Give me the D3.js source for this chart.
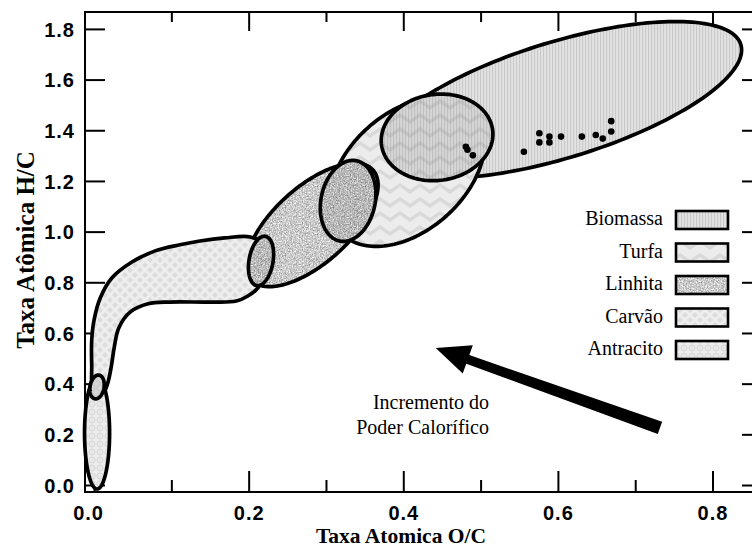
<!DOCTYPE html>
<html>
<head>
<meta charset="utf-8">
<script src="https://cdn.jsdelivr.net/npm/d3@7"></script>
<style>
  html, body { margin: 0; padding: 0; background: #fff; }
  svg { display: block; }
  .tick text { font-family: "Liberation Sans", Arial, Helvetica, sans-serif; font-weight: bold; font-size: 20px; letter-spacing: 1px; fill: #000; }
  .tick line { stroke: #000; stroke-width: 2; }
  .serif { font-family: "Liberation Serif", "Times New Roman", Times, serif; fill: #000; }
</style>
</head>
<body>
<svg id="chart" width="752" height="548"></svg>
<script>
// Van Krevelen diagram: atomic H/C versus atomic O/C for solid fuels

// ---- data -------------------------------------------------------------
const legendLabels = ["Biomassa", "Turfa", "Linhita", "Carvão", "Antracito"];

// Elliptical fuel regions: centre [O/C, H/C] plus two conjugate half-axis vectors (ratio units)
const regionNames   = ["Biomassa", "Turfa", "Linhita", "Antracito"];
const regionCenter  = [[0.6028, 1.5199], [0.4049, 1.2357], [0.2820, 1.0265], [0.0039, 0.2053]];
const regionAxisU   = [[0.2338, 0.2182], [0.0865, 0.2377], [0.0788, 0.2166], [0.0000, 0.2211]];
const regionAxisV   = [[0.0219, -0.2190], [0.0511, -0.1731], [0.0329, -0.1115], [0.0162, 0.0000]];

// Overlap zones between neighbouring fuels
const overlapNames  = ["Biomassa/Turfa", "Turfa/Linhita", "Linhita/Carvão", "Carvão/Antracito"];
const overlapCenter = [[0.4437, 1.3719], [0.3286, 1.1212], [0.2160, 0.8843], [0.0039, 0.3869]];
const overlapAxisU  = [[0.0718, 0.0308], [0.0110, 0.1583], [0.0056, 0.0972], [0.0027, 0.0467]];
const overlapAxisV  = [[0.0078, -0.1681], [0.0342, -0.0222], [0.0153, -0.0082], [0.0089, -0.0048]];

// Carvão band outline [O/C, H/C]
const carvaoOutline = [
  [-0.001, 0.367], [-0.003, 0.474], [-0.003, 0.572], [0.000, 0.651], [0.008, 0.738],
  [0.023, 0.817], [0.049, 0.880], [0.079, 0.924], [0.111, 0.948], [0.137, 0.963],
  [0.169, 0.975], [0.202, 0.979], [0.221, 0.948], [0.225, 0.869], [0.212, 0.778],
  [0.199, 0.746], [0.184, 0.726], [0.150, 0.722], [0.098, 0.722], [0.070, 0.715],
  [0.047, 0.683], [0.032, 0.620], [0.026, 0.541], [0.022, 0.462], [0.017, 0.395],
  [0.009, 0.347]
];

// Measured biomass samples
const sampleOC = [0.481, 0.483, 0.490, 0.556, 0.576, 0.576, 0.589, 0.589, 0.604, 0.631, 0.649, 0.658, 0.669, 0.669];
const sampleHC = [1.335, 1.323, 1.301, 1.315, 1.388, 1.352, 1.375, 1.352, 1.375, 1.375, 1.381, 1.367, 1.436, 1.395];

// Arrow: heating value increases towards the upper-left
const arrowFrom = [0.732, 0.225];
const arrowTo   = [0.442, 0.541];
const arrowText = ["Incremento do", "Poder Calorífico"];

// Axis ticks
const xMajorTicks = [0.0, 0.2, 0.4, 0.6, 0.8];
const xMinorTicks = [0.1, 0.3, 0.5, 0.7];
const yTicks      = [0.0, 0.2, 0.4, 0.6, 0.8, 1.0, 1.2, 1.4, 1.6, 1.8];
const xTitle = "Taxa Atomica O/C";
const yTitle = "Taxa Atômica H/C";

// ---- layout -----------------------------------------------------------
const svg = d3.select("#chart");
const L = 85, R = 762, T = 12, B = 492;
const x = d3.scaleLinear().domain([-0.0117, 0.864]).range([L, R]);
const y = d3.scaleLinear().domain([-0.0276, 1.8667]).range([B, T]);

// ---- fill patterns -------------------------------------------------------
const defs = svg.append("defs");

// grainy grey texture used for lignite and its overlaps
function speckPattern(id, gray) {
  const S = 48;
  const f = defs.append("filter").attr("id", id + "-f")
    .attr("filterUnits", "userSpaceOnUse").attr("x", 0).attr("y", 0).attr("width", S).attr("height", S)
    .attr("color-interpolation-filters", "sRGB");
  f.append("feTurbulence").attr("type", "fractalNoise").attr("baseFrequency", 0.7)
    .attr("numOctaves", 2).attr("seed", 4).attr("stitchTiles", "stitch");
  const off = (gray - 0.35).toFixed(3);
  f.append("feColorMatrix").attr("type", "matrix")
    .attr("values", `0.7 0 0 0 ${off}  0.7 0 0 0 ${off}  0.7 0 0 0 ${off}  0 0 0 0 1`);
  const p = defs.append("pattern").attr("id", id).attr("patternUnits", "userSpaceOnUse")
    .attr("width", S).attr("height", S);
  p.append("rect").attr("width", S).attr("height", S).attr("filter", `url(#${id}-f)`);
}
speckPattern("pLin", 0.79);
speckPattern("pTL", 0.72);
speckPattern("pLC", 0.73);

function stripePattern(id, base, line) {
  const p = defs.append("pattern").attr("id", id).attr("patternUnits", "userSpaceOnUse")
    .attr("width", 3).attr("height", 10);
  if (base) p.append("rect").attr("width", 3).attr("height", 10).attr("fill", base);
  p.append("rect").attr("width", 1.1).attr("height", 10).attr("fill", line);
}
stripePattern("pBio", "#e2e2e2", "#c9c9c9");
stripePattern("pStripeOver", null, "rgba(150,150,150,0.35)");

function chevronPattern(id, base, line) {
  const p = defs.append("pattern").attr("id", id).attr("patternUnits", "userSpaceOnUse")
    .attr("width", 20).attr("height", 14);
  p.append("rect").attr("width", 20).attr("height", 14).attr("fill", base);
  p.append("path").attr("d", "M-10,10 L0,3 L10,10 L20,3 L30,10")
    .attr("fill", "none").attr("stroke", line).attr("stroke-width", 3.4);
}
chevronPattern("pTurf", "#ececec", "#d9d9d9");
chevronPattern("pBT", "#d6d6d6", "#c6c6c6");

const pCar = defs.append("pattern").attr("id", "pCar").attr("patternUnits", "userSpaceOnUse")
  .attr("width", 10).attr("height", 10);
pCar.append("rect").attr("width", 10).attr("height", 10).attr("fill", "#eeeeee");
[[5, 5], [0, 0], [10, 0], [0, 10], [10, 10]].forEach(([cx, cy]) => {
  pCar.append("path").attr("d", `M${cx},${cy - 3}L${cx + 3},${cy}L${cx},${cy + 3}L${cx - 3},${cy}Z`)
    .attr("fill", "#dcdcdc");
});

const pAnt = defs.append("pattern").attr("id", "pAnt").attr("patternUnits", "userSpaceOnUse")
  .attr("width", 8).attr("height", 8);
pAnt.append("rect").attr("width", 8).attr("height", 8).attr("fill", "#ededed");
pAnt.append("circle").attr("cx", 4).attr("cy", 4).attr("r", 3.1)
  .attr("fill", "#e6e6e6").attr("stroke", "#d4d4d4").attr("stroke-width", 0.9);

const pCA = defs.append("pattern").attr("id", "pCA").attr("patternUnits", "userSpaceOnUse")
  .attr("width", 8).attr("height", 8);
pCA.append("rect").attr("width", 8).attr("height", 8).attr("fill", "#d6d6d6");
pCA.append("circle").attr("cx", 4).attr("cy", 4).attr("r", 3.1)
  .attr("fill", "none").attr("stroke", "#c6c6c6").attr("stroke-width", 0.9);

const regionFill = { "Biomassa": "url(#pBio)", "Turfa": "url(#pTurf)", "Linhita": "url(#pLin)",
                     "Carvão": "url(#pCar)", "Antracito": "url(#pAnt)" };
const overlapFill = [["url(#pBT)", "url(#pStripeOver)"], ["url(#pTL)"], ["url(#pLC)"], ["url(#pCA)"]];

// ---- axes (under the regions) --------------------------------------------
function styleAxis(g) { g.select(".domain").remove(); }

svg.append("g").attr("transform", `translate(0,${B})`)
  .call(d3.axisBottom(x).tickValues(xMinorTicks).tickSize(-12).tickFormat(""))
  .call(styleAxis);
svg.append("g").attr("transform", `translate(0,${B})`)
  .call(d3.axisBottom(x).tickValues(xMajorTicks).tickSize(-21).tickPadding(13.5).tickFormat(d3.format(".1f")))
  .call(styleAxis)
  .call(g => g.selectAll("text").attr("dx", d => d === 0 ? -6 : 0));
svg.append("g").attr("transform", `translate(0,${T})`)
  .call(d3.axisTop(x).tickValues(xMinorTicks).tickSize(-10).tickFormat(""))
  .call(styleAxis);
svg.append("g").attr("transform", `translate(0,${T})`)
  .call(d3.axisTop(x).tickValues(xMajorTicks.slice(1)).tickSize(-19).tickFormat(""))
  .call(styleAxis);
svg.append("g").attr("transform", `translate(${L},0)`)
  .call(d3.axisLeft(y).tickValues(yTicks).tickSize(-20).tickPadding(10).tickFormat(d3.format(".1f")))
  .call(styleAxis)
  .call(g => g.selectAll("text").attr("dy", "0.36em"));
svg.append("g").attr("transform", `translate(${R},0)`)
  .call(d3.axisRight(y).tickValues(yTicks).tickSize(-20).tickFormat(""))
  .call(styleAxis);

svg.append("rect").attr("x", L).attr("y", T).attr("width", R - L).attr("height", B - T)
  .attr("fill", "none").attr("stroke", "#000").attr("stroke-width", 2);

// ---- regions ------------------------------------------------------------
const closedLine = d3.line().curve(d3.curveLinearClosed);
function ellipsePath(c, u, v) {
  const pts = d3.range(0, 360, 2).map(deg => {
    const t = deg * Math.PI / 180;
    return [x(c[0] + u[0] * Math.cos(t) + v[0] * Math.sin(t)),
            y(c[1] + u[1] * Math.cos(t) + v[1] * Math.sin(t))];
  });
  return closedLine(pts);
}
const outlineWidth = 3.7;
const gReg = svg.append("g").attr("stroke-linejoin", "round");

function drawRegion(d, fills) {
  fills.forEach((f, i) => {
    gReg.append("path").attr("d", d).attr("fill", f)
      .attr("stroke", i === fills.length - 1 ? "#000" : "none")
      .attr("stroke-width", outlineWidth);
  });
}

// Biomassa, Turfa, Linhita
[0, 1, 2].forEach(i => drawRegion(ellipsePath(regionCenter[i], regionAxisU[i], regionAxisV[i]),
  [regionFill[regionNames[i]]]));

// Carvão band
const bandLine = d3.line().x(d => x(d[0])).y(d => y(d[1])).curve(d3.curveCatmullRomClosed.alpha(0.5));
drawRegion(bandLine(carvaoOutline), [regionFill["Carvão"]]);

// Antracito
drawRegion(ellipsePath(regionCenter[3], regionAxisU[3], regionAxisV[3]), [regionFill["Antracito"]]);

// Overlap zones on top
overlapNames.forEach((n, i) => drawRegion(ellipsePath(overlapCenter[i], overlapAxisU[i], overlapAxisV[i]), overlapFill[i]));

// ---- biomass samples ----------------------------------------------------
svg.append("g").selectAll("circle").data(sampleOC).join("circle")
  .attr("cx", d => x(d)).attr("cy", (d, i) => y(sampleHC[i])).attr("r", 3.3).attr("fill", "#000");

// ---- arrow --------------------------------------------------------------
(function drawArrow() {
  const p0 = [x(arrowFrom[0]), y(arrowFrom[1])];
  const p1 = [x(arrowTo[0]), y(arrowTo[1])];
  const dx = p1[0] - p0[0], dy = p1[1] - p0[1];
  const len = Math.hypot(dx, dy);
  const ux = dx / len, uy = dy / len;
  const nx = -uy, ny = ux;
  const headLen = 34, headHalf = 15, tailHalf = 6.5, neckHalf = 4.6;
  const bx = p1[0] - ux * headLen, by = p1[1] - uy * headLen;
  const pts = [
    [p0[0] + nx * tailHalf, p0[1] + ny * tailHalf],
    [bx + nx * neckHalf, by + ny * neckHalf],
    [bx + nx * headHalf, by + ny * headHalf],
    p1,
    [bx - nx * headHalf, by - ny * headHalf],
    [bx - nx * neckHalf, by - ny * neckHalf],
    [p0[0] - nx * tailHalf, p0[1] - ny * tailHalf]
  ];
  svg.append("path").attr("d", d3.line()(pts) + "Z").attr("fill", "#000");
})();

svg.append("g").selectAll("text").data(arrowText).join("text")
  .attr("class", "serif").attr("text-anchor", "end")
  .attr("x", 489).attr("y", (d, i) => 409 + i * 25)
  .attr("font-size", 20).text(d => d);

// ---- legend -------------------------------------------------------------
const leg = svg.append("g");
legendLabels.forEach((name, i) => {
  const base = 225 + i * 32.5;
  leg.append("text").attr("class", "serif").attr("text-anchor", "end")
    .attr("x", 663).attr("y", base).attr("font-size", 20).text(name);
  leg.append("rect").attr("x", 676).attr("y", base - 14).attr("width", 52).attr("height", 18)
    .attr("fill", regionFill[name]).attr("stroke", "#000").attr("stroke-width", 2.6);
});

// ---- axis titles ---------------------------------------------------------
svg.append("text").attr("class", "serif").attr("text-anchor", "middle")
  .attr("x", 401).attr("y", 543.2).attr("font-size", 21.5).attr("font-weight", "bold").text(xTitle);
svg.append("text").attr("class", "serif").attr("text-anchor", "middle")
  .attr("transform", "translate(34,250) rotate(-90)")
  .attr("font-size", 25).attr("font-weight", "bold").text(yTitle);
</script>
</body>
</html>
